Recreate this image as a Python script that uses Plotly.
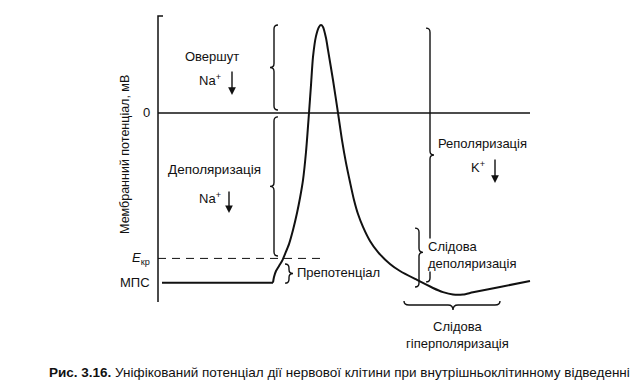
import plotly.graph_objects as go

# ---------------- data (time in arbitrary ms-like units, potential in mV) ----------------
baseline_t = [0.08, 2.30]
baseline_v = [-70, -70]

curve_t = [2.30, 2.32, 2.36, 2.42, 2.48, 2.54, 2.62, 2.70, 2.78, 2.84, 2.90, 2.96, 3.02,
           3.06, 3.10, 3.16, 3.22, 3.26, 3.30, 3.36, 3.40, 3.50, 3.60, 3.68, 3.76, 3.84,
           3.92, 4.00, 4.10, 4.24, 4.40, 4.64, 4.84, 5.18, 5.50, 5.70, 5.90, 6.10, 6.30,
           6.84, 7.44]
curve_v = [-70, -67.7, -65.2, -63.1, -61.1, -58.2, -54.1, -48.3, -41.3, -35.1, -27.7, -16.1, 0,
           11.5, 23.1, 31.7, 35.5, 36.3, 35.5, 30.9, 26.0, 13.6, 0, -11.2, -20.6, -28.5,
           -35.9, -41.7, -47.0, -52.8, -57.4, -62.3, -65.2, -68.9, -72.2, -73.9, -74.9, -74.9, -74.0,
           -71.8, -69.3]

V_ZERO = 0
V_THRESH = -60
V_REST = -70
V_PEAK = 36.3
AXIS_TOP = 40
AXIS_BOTTOM = -78
ZERO_LINE_END = 7.44
THRESH_LINE_END = 3.34

tick_vals = [V_ZERO, V_THRESH, V_REST]
tick_text = ["0", "<i>E</i><sub>кр</sub>", "МПС"]

INK = "#111111"
FONT = "Liberation Sans, Arial, sans-serif"

# pixel -> data helpers for small decorations
PX_T = 1 / 50.0
PX_V = 1 / 2.424

fig = go.Figure()

# axis line
fig.add_trace(go.Scatter(x=[0.10, 0, 0], y=[AXIS_TOP, AXIS_TOP, AXIS_BOTTOM], mode="lines",
                         line=dict(color=INK, width=1.5), hoverinfo="skip"))
# zero line
fig.add_trace(go.Scatter(x=[0, ZERO_LINE_END], y=[V_ZERO, V_ZERO], mode="lines",
                         line=dict(color=INK, width=1.4), hoverinfo="skip"))
# threshold dashed line
fig.add_trace(go.Scatter(x=[0, THRESH_LINE_END], y=[V_THRESH, V_THRESH], mode="lines",
                         line=dict(color=INK, width=1.0, dash="8px,6px"), hoverinfo="skip"))
# resting baseline
fig.add_trace(go.Scatter(x=baseline_t, y=baseline_v, mode="lines",
                         line=dict(color=INK, width=2), hoverinfo="skip"))
# action potential
fig.add_trace(go.Scatter(x=curve_t, y=curve_v, mode="lines",
                         line=dict(color=INK, width=2, shape="spline", smoothing=0.7),
                         hoverinfo="skip"))


def vbrace(xb, y0, y1, side, ym=None):
    """vertical curly brace; side=-1 tip left '{', +1 tip right '}'"""
    if ym is None:
        ym = (y0 + y1) / 2
    e = 4 * PX_T
    d = 4 * PX_T
    r = 4 * PX_V
    s = side
    p = (f"M {xb - s*e},{y0} Q {xb},{y0} {xb},{y0 - r} "
         f"L {xb},{ym + r} Q {xb},{ym} {xb + s*d},{ym} "
         f"Q {xb},{ym} {xb},{ym - r} L {xb},{y1 + r} "
         f"Q {xb},{y1} {xb - s*e},{y1}")
    fig.add_shape(type="path", path=p, xref="x", yref="y",
                  line=dict(color=INK, width=1.4), layer="below")


def hbrace(x0, x1, yb, xm=None):
    if xm is None:
        xm = (x0 + x1) / 2
    e = 4 * PX_V
    d = 5 * PX_V
    r = 5 * PX_T
    p = (f"M {x0},{yb + e} Q {x0},{yb} {x0 + r},{yb} "
         f"L {xm - r},{yb} Q {xm},{yb} {xm},{yb - d} "
         f"Q {xm},{yb} {xm + r},{yb} L {x1 - r},{yb} "
         f"Q {x1},{yb} {x1},{yb + e}")
    fig.add_shape(type="path", path=p, xref="x", yref="y",
                  line=dict(color=INK, width=1.4), layer="below")


# braces
vbrace(2.32, V_PEAK, 1.2, -1)                    # overshoot
vbrace(2.32, -1.6, -59.0, -1)                    # depolarization
vbrace(5.44, 35.0, -69.7, 1)                     # repolarization
vbrace(2.62, -62.3, -70.2, 1)                    # prepotential
vbrace(5.22, -47.5, -71.8, 1, ym=-57.5)          # trace depolarization
hbrace(4.92, 6.84, -79.2, xm=5.90)               # trace hyperpolarization


def text(x, y, s, size=13, xanchor="center", bg=None, align="center"):
    fig.add_annotation(x=x, y=y, xref="x", yref="y", text=s, showarrow=False,
                       xanchor=xanchor, yanchor="middle", align=align,
                       font=dict(family=FONT, size=size, color=INK),
                       bgcolor=bg if bg else "rgba(0,0,0,0)", borderpad=0)


def arrow(x, y_head, length_px=25):
    fig.add_annotation(x=x, y=y_head, xref="x", yref="y", ax=0, ay=-length_px,
                       text="", showarrow=True, arrowhead=2, arrowsize=1.1,
                       arrowwidth=1.4, arrowcolor=INK)


# tick labels
for v, s in zip(tick_vals, tick_text):
    fig.add_annotation(x=-0.12, y=v, xref="x", yref="y", text=s, showarrow=False,
                       xanchor="right", yanchor="middle",
                       font=dict(family=FONT, size=13, color=INK))

text(1.08, 23.1, "Овершут")
text(1.04, 13.6, "Na<sup>+</sup>")
arrow(1.48, 7.4)
text(1.12, -23.5, "Деполяризація", size=13.5)
text(1.04, -35.1, "Na<sup>+</sup>")
arrow(1.42, -41.3, 23)
text(5.58, -12.4, "Реполяризація", xanchor="left")
text(6.4, -22.3, "K<sup>+</sup>")
arrow(6.74, -28.9)
text(2.76, -66.0, "Препотенціал", xanchor="left")
text(5.38, -58.6, "Слідова<br>деполяризація", xanchor="left", bg="white", align="left")
text(5.98, -91.4, "Слідова<br>гіперполяризація")

# y title
fig.add_annotation(x=-0.0507, y=-17.3, xref="paper", yref="y",
                   text="Мембранний потенціал, мВ", textangle=-90, showarrow=False,
                   xanchor="center", yanchor="middle",
                   font=dict(family=FONT, size=12.5, color=INK))

# caption
fig.add_annotation(x=0.385, y=-106.9, xref="paper", yref="y",
                   text="<b>Рис. 3.16.</b> Уніфікований потенціал дії нервової клітини при внутрішньоклітинному відведенні",
                   showarrow=False, xanchor="center", yanchor="middle",
                   font=dict(family=FONT, size=13.5, color=INK))

# the page body adds an 8px offset, so margins are reduced by 8px on the top/left
fig.update_layout(
    width=643, height=391,
    margin=dict(l=142, r=8, t=2, b=8),
    paper_bgcolor="white", plot_bgcolor="white",
    showlegend=False,
    xaxis=dict(range=[-0.16, 9.70], visible=False),
    yaxis=dict(range=[-114.7, 42.48], visible=False),
)

fig.write_html("out.html")
